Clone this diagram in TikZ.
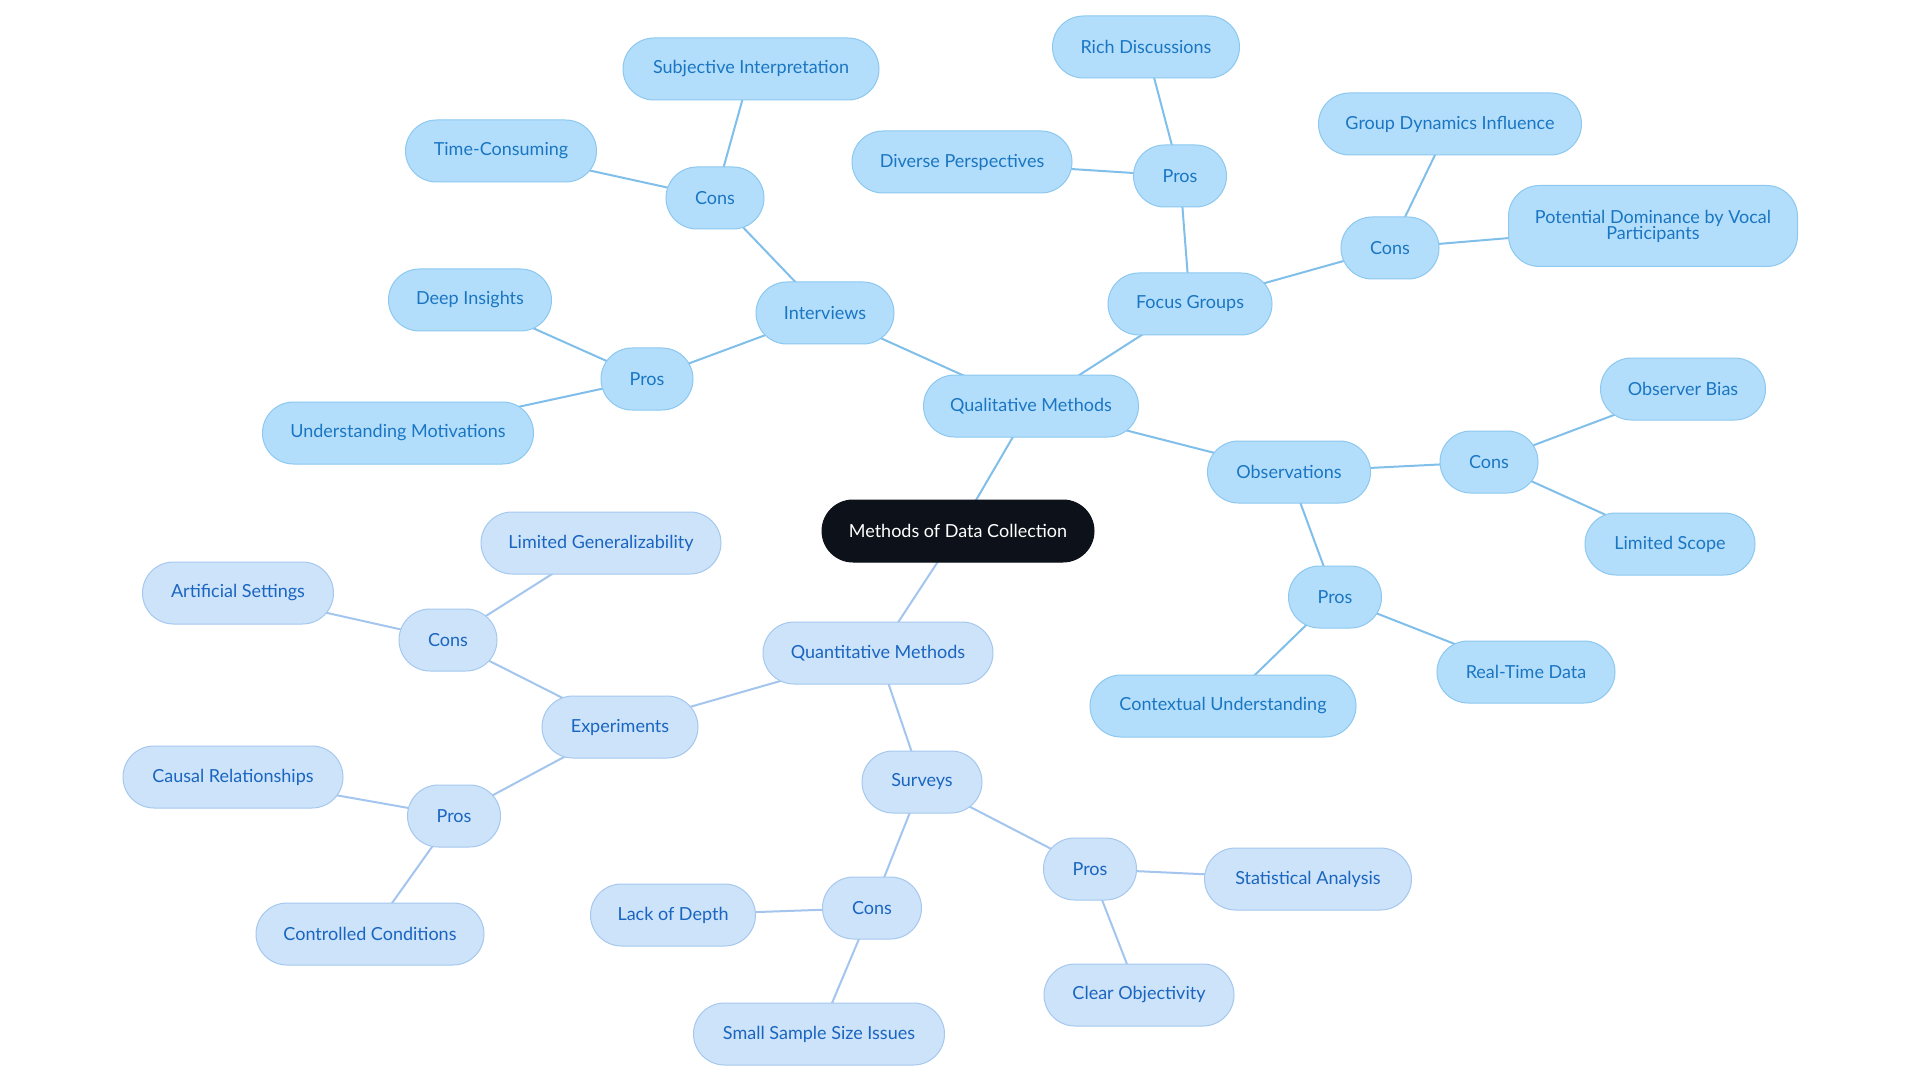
\documentclass[tikz,border=0pt]{standalone}
\usepackage{fontspec}
\setmainfont{Lato}
\usetikzlibrary{backgrounds}
\definecolor{qlfill}{HTML}{B3DEFB}
\definecolor{qldraw}{HTML}{8CC8F0}
\definecolor{qltext}{HTML}{1A76C2}
\definecolor{qlline}{HTML}{80BFEA}
\definecolor{qnfill}{HTML}{CCE3FA}
\definecolor{qndraw}{HTML}{A6C8EE}
\definecolor{qntext}{HTML}{1A65C0}
\definecolor{qnline}{HTML}{A3C5EE}
\definecolor{rootfill}{HTML}{0D121A}
\tikzset{
  base/.style={rounded corners=31pt, minimum height=62pt, inner sep=0pt, font=\fontsize{18}{19}\selectfont, line width=1pt},
  ql/.style={base, fill=qlfill, draw=qldraw, text=qltext},
  qn/.style={base, fill=qnfill, draw=qndraw, text=qntext},
  rootbox/.style={base, fill=rootfill, draw=rootfill, text=white},
  qledge/.style={draw=qlline, line width=2pt},
  qnedge/.style={draw=qnline, line width=2pt},
}
\begin{document}
\begin{tikzpicture}[x=1pt,y=-1pt]
\useasboundingbox (0,0) rectangle (1920,1083);
\begin{scope}[yshift=-2pt]
% root
\node[rootbox, minimum width=272pt] (root) at (958,529) {Methods of Data Collection};
% qualitative
\node[ql, minimum width=215pt] (qual) at (1031,404) {Qualitative Methods};
\node[ql, minimum width=138pt] (int) at (825,311) {Interviews};
\node[ql, minimum width=164pt] (fg) at (1190,302) {Focus Groups};
\node[ql, minimum width=163pt] (obs) at (1289,470) {Observations};
\node[ql, minimum width=98pt] (intc) at (715,196) {Cons};
\node[ql, minimum width=256pt] (subj) at (751,67) {Subjective Interpretation};
\node[ql, minimum width=191pt] (time) at (501,149) {Time-Consuming};
\node[ql, minimum width=92pt] (intp) at (647,377) {Pros};
\node[ql, minimum width=163pt] (deep) at (470,298) {Deep Insights};
\node[ql, minimum width=271pt] (motiv) at (398,431) {Understanding Motivations};
\node[ql, minimum width=93pt] (fgp) at (1180,174) {Pros};
\node[ql, minimum width=187pt] (rich) at (1146,45) {Rich Discussions};
\node[ql, minimum width=220pt] (div) at (962,160) {Diverse Perspectives};
\node[ql, minimum width=98pt] (fgc) at (1390,246) {Cons};
\node[ql, minimum width=263pt] (grp) at (1450,122) {Group Dynamics Influence};
\node[ql, minimum width=289pt, minimum height=81pt, align=center] (dom) at (1653,224) {Potential Dominance by Vocal\\[-3pt]Participants};
\node[ql, minimum width=98pt] (obsc) at (1489,460) {Cons};
\node[ql, minimum width=165pt] (bias) at (1683,387) {Observer Bias};
\node[ql, minimum width=170pt] (scope) at (1670,542) {Limited Scope};
\node[ql, minimum width=93pt] (obsp) at (1335,595) {Pros};
\node[ql, minimum width=178pt] (real) at (1526,670) {Real-Time Data};
\node[ql, minimum width=266pt] (ctx) at (1223,704) {Contextual Understanding};
% quantitative
\node[qn, minimum width=230pt] (quant) at (878,651) {Quantitative Methods};
\node[qn, minimum width=156pt] (exp) at (620,725) {Experiments};
\node[qn, minimum width=98pt] (expc) at (448,638) {Cons};
\node[qn, minimum width=240pt] (gen) at (601,541) {Limited Generalizability};
\node[qn, minimum width=191pt] (art) at (238,591) {Artificial Settings};
\node[qn, minimum width=93pt] (expp) at (454,814) {Pros};
\node[qn, minimum width=220pt] (causal) at (233,775) {Causal Relationships};
\node[qn, minimum width=228pt] (ctrl) at (370,932) {Controlled Conditions};
\node[qn, minimum width=120pt] (surv) at (922,780) {Surveys};
\node[qn, minimum width=93pt] (survp) at (1090,867) {Pros};
\node[qn, minimum width=207pt] (stat) at (1308,877) {Statistical Analysis};
\node[qn, minimum width=190pt] (clear) at (1139,993) {Clear Objectivity};
\node[qn, minimum width=99pt] (survc) at (872,906) {Cons};
\node[qn, minimum width=165pt] (lack) at (673,913) {Lack of Depth};
\node[qn, minimum width=251pt] (small) at (819,1032) {Small Sample Size Issues};
\end{scope}
\begin{scope}[on background layer]
\fill[white] (0,0) rectangle (1920,1083);
\draw[qledge] (root.center) -- (qual.center);
\draw[qledge] (qual.center) -- (int.center);
\draw[qledge] (qual.center) -- (fg.center);
\draw[qledge] (qual.center) -- (obs.center);
\draw[qledge] (int.center) -- (intc.center);
\draw[qledge] (intc.center) -- (subj.center);
\draw[qledge] (intc.center) -- (time.center);
\draw[qledge] (int.center) -- (intp.center);
\draw[qledge] (intp.center) -- (deep.center);
\draw[qledge] (intp.center) -- (motiv.center);
\draw[qledge] (fg.center) -- (fgp.center);
\draw[qledge] (fgp.center) -- (rich.center);
\draw[qledge] (fgp.center) -- (div.center);
\draw[qledge] (fg.center) -- (fgc.center);
\draw[qledge] (fgc.center) -- (grp.center);
\draw[qledge] (fgc.center) -- (dom.center);
\draw[qledge] (obs.center) -- (obsc.center);
\draw[qledge] (obsc.center) -- (bias.center);
\draw[qledge] (obsc.center) -- (scope.center);
\draw[qledge] (obs.center) -- (obsp.center);
\draw[qledge] (obsp.center) -- (real.center);
\draw[qledge] (obsp.center) -- (ctx.center);
\draw[qnedge] (root.center) -- (quant.center);
\draw[qnedge] (quant.center) -- (exp.center);
\draw[qnedge] (exp.center) -- (expc.center);
\draw[qnedge] (expc.center) -- (gen.center);
\draw[qnedge] (expc.center) -- (art.center);
\draw[qnedge] (exp.center) -- (expp.center);
\draw[qnedge] (expp.center) -- (causal.center);
\draw[qnedge] (expp.center) -- (ctrl.center);
\draw[qnedge] (quant.center) -- (surv.center);
\draw[qnedge] (surv.center) -- (survp.center);
\draw[qnedge] (survp.center) -- (stat.center);
\draw[qnedge] (survp.center) -- (clear.center);
\draw[qnedge] (surv.center) -- (survc.center);
\draw[qnedge] (survc.center) -- (lack.center);
\draw[qnedge] (survc.center) -- (small.center);
\end{scope}
\end{tikzpicture}
\end{document}
